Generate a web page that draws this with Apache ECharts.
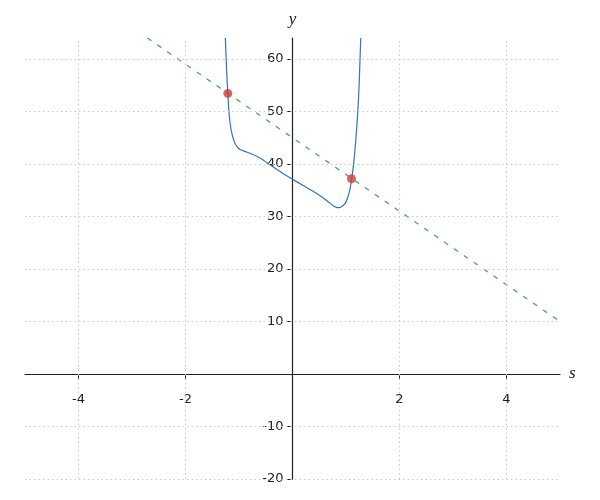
<!DOCTYPE html>
<html>
<head>
<meta charset="utf-8">
<script src="https://cdn.jsdelivr.net/npm/echarts@6/dist/echarts.min.js"></script>
<style>html,body{margin:0;padding:0;background:#fff;}#c{width:600px;height:500px;}</style>
</head>
<body>
<div id="c"></div>
<script>
// Curve samples
const curveS = [-1.255, -1.24, -1.225, -1.209, -1.195, -1.178, -1.155, -1.13, -1.10, -1.065, -1.02, -0.972, -0.88, -0.785, -0.6, -0.4, -0.2, 0.0, 0.2, 0.4, 0.55, 0.68, 0.76, 0.82, 0.87, 0.93, 0.99, 1.02, 1.053, 1.08, 1.103, 1.134, 1.165, 1.19, 1.221, 1.245, 1.262, 1.276];
const curveY = [64, 60, 56.5, 53.45, 51.0, 48.8, 47.0, 45.7, 44.6, 43.75, 43.1, 42.7, 42.35, 42.0, 41.1, 39.7, 38.35, 37.1, 35.9, 34.7, 33.7, 32.7, 32.05, 31.75, 31.7, 31.95, 32.6, 33.3, 34.3, 35.5, 37.0, 39.3, 42.4, 45.5, 50.0, 55.0, 60.0, 64];
// Secant line
const lineS = [-2.714, 5];
const lineY = [64, 10];
// Intersection points
const pointS = [-1.209, 1.103];
const pointY = [53.45, 37.2];
// Ticks
const xTicks = [-4, -2, 2, 4];
const yTicks = [-20, -10, 10, 20, 30, 40, 50, 60];
const xRange = [-5, 5];
const yRange = [-20, 64];

const zip = (a, b) => a.map((v, i) => [v, b[i]]);
const gridStyle = { color: '#c8c8c8', width: 1, type: [1.5, 3] };
const labelFont = { fontFamily: 'DejaVu Sans', fontSize: 13, color: '#222' };
const GRID = { left: 25, right: 40, top: 38, bottom: 21 };

const chart = echarts.init(document.getElementById('c'), null, { renderer: 'canvas' });
const option = {
  animation: false,
  backgroundColor: '#fff',
  grid: Object.assign({ containLabel: false, outerBoundsMode: 'none' }, GRID),
  xAxis: {
    type: 'value', min: xRange[0], max: xRange[1], position: 'bottom', offset: 0,
    name: 's', nameLocation: 'end', nameGap: 9,
    nameTextStyle: { fontFamily: 'Liberation Serif', fontStyle: 'italic', fontSize: 17, color: '#222', verticalAlign: 'middle', padding: [4, 0, 0, 0] },
    axisLine: { onZero: false, lineStyle: { color: '#222', width: 1.2 } },
    axisTick: { show: true, length: 5, inside: false, customValues: xTicks, lineStyle: { color: '#222' } },
    axisLabel: Object.assign({ customValues: xTicks, margin: 19 }, labelFont),
    splitLine: { show: false }
  },
  yAxis: {
    type: 'value', min: yRange[0], max: yRange[1], position: 'left', offset: 0,
    name: 'y', nameLocation: 'end', nameGap: 10,
    nameTextStyle: { fontFamily: 'Liberation Serif', fontStyle: 'italic', fontSize: 17, color: '#222' },
    axisLine: { onZero: false, lineStyle: { color: '#222', width: 1.2 } },
    axisTick: { show: true, length: 6, inside: false, customValues: yTicks, lineStyle: { color: '#222' } },
    axisLabel: Object.assign({ customValues: yTicks, margin: 9 }, labelFont),
    splitLine: { show: false }
  },
  series: [
    {
      type: 'line', data: [], z: 1, silent: true,
      markLine: {
        silent: true, symbol: 'none', label: { show: false }, lineStyle: gridStyle,
        data: xTicks.map(v => ({ xAxis: v })).concat(yTicks.map(v => ({ yAxis: v })))
      }
    },
    {
      type: 'line', data: zip(lineS, lineY), showSymbol: false, z: 3,
      lineStyle: { color: '#4aab5c', width: 1.3, type: [5, 7] }
    },
    {
      type: 'line', data: zip(curveS, curveY), showSymbol: false, smooth: 0.3, z: 4,
      lineStyle: { color: '#3173c2', width: 1.2 }
    },
    {
      type: 'scatter', data: zip(pointS, pointY), symbolSize: 9, z: 5,
      itemStyle: { color: '#cb4136' }
    }
  ]
};
chart.setOption(option);
// Move the axes so they cross at the origin (labels follow the axis lines)
const origin = chart.convertToPixel({ gridIndex: 0 }, [0, 0]);
const bottomPx = chart.convertToPixel({ gridIndex: 0 }, [0, yRange[0]])[1];
const leftPx = chart.convertToPixel({ gridIndex: 0 }, [xRange[0], 0])[0];
chart.setOption({
  xAxis: { offset: origin[1] - bottomPx },
  yAxis: { offset: leftPx - origin[0] }
});
</script>
</body>
</html>
